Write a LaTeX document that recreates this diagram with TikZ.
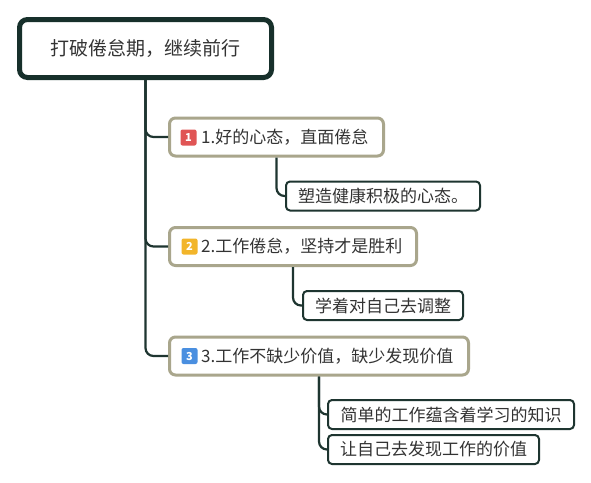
\documentclass[tikz,border=0pt]{standalone}
\usepackage{fontspec}
\setmainfont{Noto Sans CJK SC}
\definecolor{rootc}{HTML}{17302B}
\definecolor{brc}{HTML}{A9A68C}
\definecolor{leafc}{HTML}{1E3530}
\definecolor{txt}{HTML}{333333}
\definecolor{bred}{HTML}{E05555}
\definecolor{byel}{HTML}{F2B52A}
\definecolor{bblue}{HTML}{4A8FE0}
\begin{document}
\begin{tikzpicture}[x=1pt,y=-1pt,
  rootbox/.style={draw=rootc,line width=5pt,rounded corners=8pt,fill=white,
    minimum width=252pt,minimum height=58pt,inner sep=0pt,
    font=\fontsize{19}{22}\selectfont,text=txt},
  branchbox/.style={draw=brc,line width=3pt,rounded corners=6pt,fill=white,
    minimum width=#1,minimum height=38pt,inner sep=0pt},
  leafbox/.style={draw=leafc,line width=2pt,rounded corners=4pt,fill=white,
    minimum width=#1,minimum height=29pt,inner sep=0pt,
    font=\fontsize{17}{20}\selectfont,text=txt},
  btext/.style={anchor=west,inner sep=0pt,font=\fontsize{17}{20}\selectfont,text=txt},
  badge/.style={fill=#1,rounded corners=2pt,minimum width=16pt,minimum height=16pt,
    inner sep=0pt,text=white,font=\fontsize{11}{12}\selectfont\bfseries},
  conn/.style={draw=leafc,line width=2.2pt,rounded corners=8pt}]
\fill[white] (0,0) rectangle (591,482);
\useasboundingbox (0,0) rectangle (591,482);

\node[rootbox] (root) at (145.5,48.5) {打破倦怠期，继续前行};

\node[branchbox=214pt] (b1) at (276.5,137) {};
\node[badge=bred] (k1) at (188.5,137.5) {1};
\node[btext] (t1) at (201,137) {1.好的心态，直面倦怠};

\node[branchbox=247pt] (b2) at (293,246.5) {};
\node[badge=byel] (k2) at (189.5,246.5) {2};
\node[btext] (t2) at (201,246.5) {2.工作倦怠，坚持才是胜利};

\node[branchbox=299pt] (b3) at (319,356) {};
\node[badge=bblue] (k3) at (189.5,356) {3};
\node[btext] (t3) at (201,356) {3.工作不缺少价值，缺少发现价值};

\node[leafbox=194pt] (c1) at (383,196) {塑造健康积极的心态。};
\node[leafbox=160pt] (c2) at (383,305.5) {学着对自己去调整};
\node[leafbox=246pt] (c3) at (451,414.5) {简单的工作蕴含着学习的知识};
\node[leafbox=211pt] (c4) at (433.5,449.5) {让自己去发现工作的价值};

\draw[conn] (root.south) |- (b1.west);
\draw[conn] (root.south) |- (b2.west);
\draw[conn] (root.south) |- (b3.west);
\draw[conn] (b1.south) |- (c1.west);
\draw[conn] (b2.south) |- (c2.west);
\draw[conn] (b3.south) |- (c3.west);
\draw[conn] (b3.south) |- (c4.west);
\end{tikzpicture}
\end{document}
